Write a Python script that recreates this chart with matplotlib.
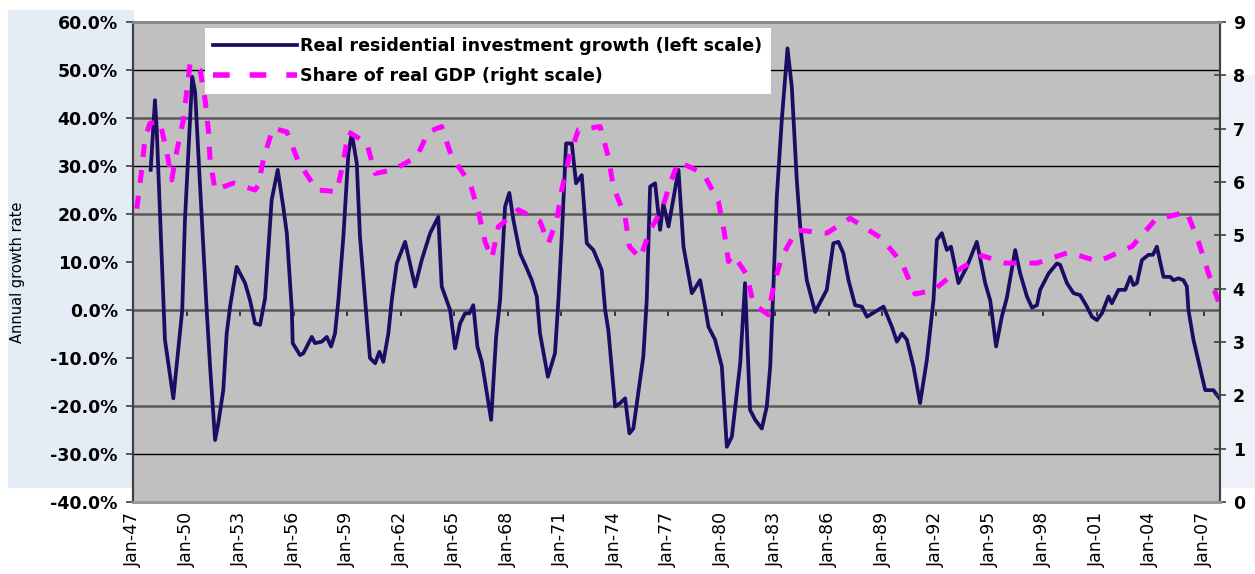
import matplotlib
matplotlib.use("Agg")
import matplotlib.pyplot as plt
from matplotlib.lines import Line2D
from matplotlib.patches import Rectangle
from matplotlib.ticker import FuncFormatter

# Real residential investment growth, % y/y (left scale)
inv_year = [
    1947.99, 1948.23, 1948.33, 1948.79, 1949.26, 1949.63, 1949.76, 1949.91, 1950.32, 1950.48,
    1950.76, 1951.13, 1951.32, 1951.60, 1951.78, 1952.06, 1952.25, 1952.44, 1952.81, 1953.28,
    1953.56, 1953.84, 1954.12, 1954.40, 1954.77, 1955.11, 1955.42, 1955.62, 1955.90, 1955.95,
    1956.36, 1956.55, 1957.02, 1957.20, 1957.58, 1957.86, 1958.10, 1958.32, 1958.51, 1958.79,
    1959.07, 1959.26, 1959.54, 1959.72, 1960.10, 1960.28, 1960.57, 1960.81, 1961.03, 1961.31,
    1961.50, 1961.78, 1962.25, 1962.81, 1963.18, 1963.65, 1964.11, 1964.30, 1964.58, 1964.77,
    1965.05, 1965.33, 1965.61, 1965.85, 1966.07, 1966.30, 1966.55, 1967.07, 1967.35, 1967.57,
    1967.85, 1968.09, 1968.32, 1968.69, 1969.03, 1969.35, 1969.63, 1969.81, 1970.25, 1970.65,
    1970.84, 1971.03, 1971.27, 1971.59, 1971.83, 1972.15, 1972.43, 1972.80, 1973.27, 1973.46,
    1973.64, 1974.02, 1974.30, 1974.58, 1974.82, 1975.04, 1975.42, 1975.60, 1975.79, 1975.98,
    1976.26, 1976.54, 1976.72, 1977.01, 1977.57, 1977.85, 1978.32, 1978.78, 1979.06, 1979.25,
    1979.62, 1980.00, 1980.28, 1980.56, 1981.03, 1981.30, 1981.58, 1981.87, 1982.24, 1982.52,
    1982.71, 1982.89, 1983.08, 1983.36, 1983.68, 1983.92, 1984.20, 1984.39, 1984.76, 1985.23,
    1985.88, 1986.25, 1986.53, 1986.81, 1987.10, 1987.47, 1987.85, 1988.13, 1989.06, 1989.53,
    1989.81, 1990.09, 1990.37, 1990.74, 1991.11, 1991.49, 1991.86, 1992.05, 1992.33, 1992.61,
    1992.84, 1993.26, 1993.73, 1994.29, 1994.76, 1995.04, 1995.37, 1995.69, 1995.97, 1996.44,
    1996.72, 1997.10, 1997.38, 1997.66, 1997.84, 1998.31, 1998.78, 1998.96, 1999.34, 1999.71,
    2000.08, 2000.46, 2000.74, 2001.02, 2001.30, 2001.58, 2001.67, 2001.86, 2002.23, 2002.61,
    2002.89, 2003.07, 2003.26, 2003.54, 2003.91, 2004.16, 2004.38, 2004.75, 2005.13, 2005.31,
    2005.59, 2005.87, 2006.06, 2006.15, 2006.43, 2007.09, 2007.55, 2007.89,
]
inv_growth = [
    29.2, 43.7, 37.5, -6.2, -18.4, -4.9, 0.0, 18.7, 48.6, 45.5,
    25.7, 0.0, -11.8, -27.1, -23.6, -16.7, -4.9, 0.7, 9.0, 5.6,
    2.0, -2.8, -3.1, 2.4, 22.9, 29.2, 21.5, 16.0, 0.0, -6.9,
    -9.4, -9.0, -5.6, -6.9, -6.6, -5.6, -7.6, -4.9, 2.0, 15.3,
    32.6, 36.8, 30.6, 15.3, -2.1, -10.0, -11.1, -8.7, -10.8, -4.9,
    2.0, 9.7, 14.2, 4.9, 10.4, 16.0, 19.4, 4.9, 2.0, 0.0,
    -8.0, -2.8, -0.7, -0.7, 1.0, -7.6, -10.8, -22.9, -5.6, 2.0,
    21.5, 24.4, 18.7, 11.8, 9.0, 6.2, 2.8, -4.9, -13.9, -9.0,
    2.0, 15.3, 34.7, 34.7, 26.4, 28.1, 13.9, 12.5, 8.3, 0.0,
    -4.2, -20.1, -19.4, -18.4, -25.7, -24.7, -14.6, -9.7, 2.0, 25.7,
    26.4, 16.7, 22.2, 17.4, 29.2, 13.2, 3.5, 6.2, 0.7, -3.5,
    -6.2, -11.8, -28.5, -26.4, -11.1, 5.6, -20.8, -22.9, -24.7, -20.1,
    -11.8, 4.9, 23.6, 39.6, 54.5, 46.5, 27.1, 17.4, 6.2, -0.4,
    4.2, 13.9, 14.2, 11.8, 6.2, 1.0, 0.7, -1.4, 0.7, -3.5,
    -6.6, -4.9, -6.2, -11.8, -19.4, -10.4, 2.0, 14.6, 16.0, 12.5,
    13.2, 5.6, 9.0, 14.2, 5.6, 2.0, -7.6, -1.4, 2.5, 12.5,
    7.6, 2.8, 0.5, 1.0, 4.2, 7.6, 9.7, 9.4, 5.6, 3.5,
    3.1, 0.7, -1.4, -2.1, -0.7, 2.0, 2.8, 1.4, 4.2, 4.2,
    6.9, 5.2, 5.6, 10.4, 11.5, 11.5, 13.2, 6.9, 6.9, 6.2,
    6.6, 6.2, 4.9, 0.0, -6.2, -16.7, -16.7, -18.4,
]

# Residential investment share of real GDP, % (right scale)
gdp_year = [
    1947.21, 1947.49, 1947.67, 1947.95, 1948.51, 1948.89, 1949.17, 1949.45, 1949.82, 1950.20,
    1950.76, 1951.04, 1951.22, 1951.32, 1951.60, 1952.62, 1953.84, 1954.02, 1954.30, 1954.83,
    1955.62, 1956.27, 1957.30, 1958.42, 1958.79, 1959.07, 1960.10, 1960.57, 1961.59, 1962.90,
    1963.55, 1964.30, 1964.86, 1965.89, 1966.36, 1966.73, 1967.11, 1967.48, 1968.60, 1969.81,
    1970.28, 1970.75, 1971.03, 1971.40, 1971.96, 1973.18, 1973.64, 1973.92, 1974.58, 1974.82,
    1975.42, 1975.98, 1976.64, 1977.10, 1977.57, 1978.97, 1979.81, 1980.13, 1980.37, 1980.65,
    1981.40, 1981.77, 1982.61, 1982.89, 1983.36, 1984.20, 1985.88, 1987.19, 1988.97, 1990.09,
    1990.83, 1991.86, 1993.26, 1994.57, 1995.88, 1997.66, 1999.43, 2001.11, 2002.98, 2004.29,
    2006.06, 2006.71, 2007.27, 2007.83,
]
gdp_share = [
    5.5, 6.23, 6.82, 7.10, 7.13, 6.57, 6.04, 6.57, 7.16, 8.23,
    8.10, 7.54, 6.98, 6.41, 5.85, 5.98, 5.85, 5.94, 6.41, 7.01,
    6.94, 6.38, 5.85, 5.82, 6.38, 6.94, 6.73, 6.16, 6.23, 6.47,
    6.94, 7.04, 6.47, 5.98, 5.44, 4.88, 4.57, 5.16, 5.48, 5.26,
    4.85, 5.29, 5.85, 6.41, 6.98, 7.04, 6.47, 5.91, 5.35, 4.79,
    4.57, 5.10, 5.48, 5.98, 6.38, 6.16, 5.63, 5.07, 4.51, 4.63,
    4.26, 3.71, 3.51, 4.04, 4.60, 5.10, 5.04, 5.32, 4.94, 4.48,
    3.90, 3.97, 4.35, 4.62, 4.48, 4.48, 4.68, 4.51, 4.79, 5.29,
    5.44, 4.88, 4.29, 3.76,
]

tick_years = list(range(1947, 2008, 3))
tick_labels = ["Jan-%02d" % (y % 100) for y in tick_years]

W, H = 1255, 574
fig = plt.figure(figsize=(W / 100, H / 100), dpi=100)
fig.patch.set_facecolor("white")

# pale blue slide background behind the axes labels
fig.patches.append(Rectangle((8 / W, 1 - 487 / H), 125 / W, 477 / H,
                             transform=fig.transFigure, color="#e4ecf5", zorder=-5))
fig.patches.append(Rectangle((1222 / W, 1 - 487 / H), 33 / W, 412 / H,
                             transform=fig.transFigure, color="#eef2f8", zorder=-5))

ax = fig.add_axes([133 / W, 1 - 502 / H, (1219.5 - 133) / W, 480 / H])
ax.set_facecolor("#c0c0c0")
ax2 = ax.twinx()

ax.plot(inv_year, inv_growth, color="#1c0c63", lw=2.7, solid_joinstyle="round")
ax2.plot(gdp_year, gdp_share, color="#ff00ff", lw=3.6, linestyle=(0, (2.6, 2.6)))

ax.set_xlim(1947, 2007.89)
ax.set_ylim(-40, 60)
ax2.set_ylim(0, 9)

ax.set_yticks(range(-40, 61, 10))
ax.yaxis.set_major_formatter(FuncFormatter(lambda v, p: "%.1f%%" % v))
ax2.set_yticks(range(0, 10))

ax.set_xticks(tick_years)
ax.set_xticklabels(tick_labels, rotation=90, fontsize=12.5)
ax.tick_params(axis="x", length=0, pad=7)
ax.tick_params(axis="y", direction="out", length=5, width=1.2, color="#404040", pad=6)
ax2.tick_params(axis="y", direction="inout", length=9, width=1.2, color="#404040", pad=5)
for lab in ax.get_yticklabels() + ax2.get_yticklabels():
    lab.set_fontsize(12.5)
    lab.set_fontweight("bold")

# small tick marks sit on the 0% line
sec = ax.secondary_xaxis(0.4)
sec.set_xticks(tick_years)
sec.tick_params(axis="x", direction="out", length=4, width=1.2, color="#202020", labelbottom=False)
sec.spines["bottom"].set_visible(False)

# horizontal gridlines (10% and -10% are not drawn in the original)
ax.grid(axis="y")
for val, gl in zip(range(-40, 61, 10), ax.get_ygridlines()):
    if val in (-40, -10, 10, 60):
        gl.set_visible(False)
    elif val in (50, 30, -30):
        gl.set_color("black")
        gl.set_linewidth(1.0)
    else:
        gl.set_color("#5a5a5a")
        gl.set_linewidth(1.8)
ax.set_axisbelow(True)

for a in (ax, ax2):
    a.spines["left"].set_color("#404040")
    a.spines["right"].set_color("#404040")
    a.spines["left"].set_linewidth(1.5)
    a.spines["right"].set_linewidth(1.5)
    a.spines["top"].set_color("#8a8a8a")
    a.spines["top"].set_linewidth(2)
    a.spines["bottom"].set_color("#9a9a9a")
    a.spines["bottom"].set_linewidth(2)

fig.text(18 / W, 1 - 272 / H, "Annual growth rate", rotation=90,
         ha="center", va="center", fontsize=10.5)

handles = [
    Line2D([], [], color="#1c0c63", lw=2.7),
    Line2D([], [], color="#ff00ff", lw=4, linestyle=(0, (3, 3.6))),
]
labels = ["Real residential investment growth (left scale)",
          "Share of real GDP (right scale)"]
leg = ax2.legend(handles, labels, loc="upper left", bbox_to_anchor=(0.066, 0.9875),
                 borderaxespad=0, prop={"weight": "bold", "size": 12.6},
                 handlelength=4.8, handletextpad=0.15, labelspacing=0.7,
                 borderpad=0.5, fancybox=False, framealpha=1, edgecolor="white")
leg.get_frame().set_linewidth(0)

fig.savefig("out.png", dpi=100)
